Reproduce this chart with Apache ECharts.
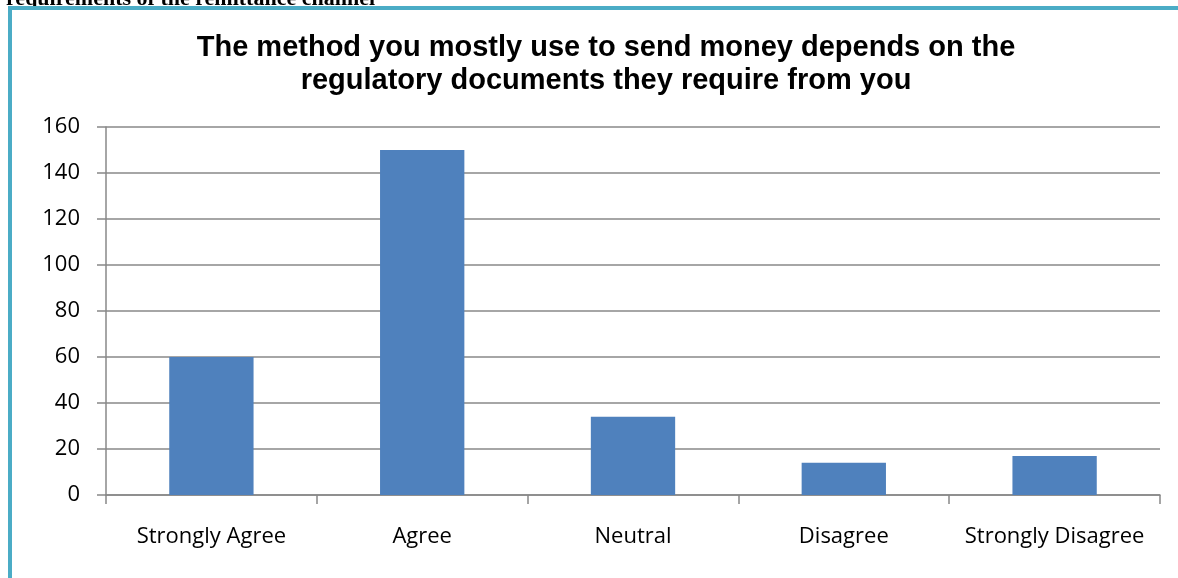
<!DOCTYPE html>
<html>
<head>
<meta charset="utf-8">
<script src="https://cdn.jsdelivr.net/npm/echarts@6/dist/echarts.min.js"></script>
<style>
  html, body { margin: 0; padding: 0; background: #fff; }
  #chart { width: 1178px; height: 578px; }
</style>
</head>
<body>
<div id="chart"></div>
<script>
const categories = ['Strongly Agree', 'Agree', 'Neutral', 'Disagree', 'Strongly Disagree']
const responses = [60, 150, 34, 14, 17]
const yTicks = { min: 0, max: 160, interval: 20 }

const chart = echarts.init(document.getElementById('chart'))

chart.setOption({
  animation: false,
  title: {
    text: 'The method you mostly use to send money depends on the\nregulatory documents they require from you',
    left: 601,
    textAlign: 'center',
    top: 26,
    textStyle: {
      fontFamily: '"Liberation Sans", Arial, sans-serif',
      fontWeight: 'bold',
      fontSize: 29,
      lineHeight: 33,
      color: '#000',
    },
  },
  graphic: [
    {
      type: 'text',
      left: 6,
      top: -12,
      style: {
        text: 'requirements of the remittance channel',
        font: 'bold 22px "Liberation Serif", "Times New Roman", serif',
        fill: '#000',
      },
    },
    {
      type: 'rect',
      shape: { x: 10, y: 8, width: 1200, height: 700 },
      style: { fill: 'none', stroke: '#4BACC6', lineWidth: 4 },
    },
  ],
  grid: {
    left: 106,
    right: 18,
    top: 127,
    bottom: 83,
  },
  xAxis: {
    type: 'category',
    data: categories,
    axisLine: { lineStyle: { color: '#888', width: 1.5 } },
    axisTick: { show: true, length: 9, lineStyle: { color: '#888', width: 1.5 } },
    axisLabel: {
      interval: 0,
      color: '#000',
      fontFamily: '"Open Sans", Lato, sans-serif',
      fontSize: 22,
      margin: 31,
    },
  },
  yAxis: {
    type: 'value',
    min: yTicks.min,
    max: yTicks.max,
    interval: yTicks.interval,
    axisLine: { show: true, lineStyle: { color: '#888', width: 1.5 } },
    axisTick: { show: true, length: 9, lineStyle: { color: '#888', width: 1.5 } },
    axisLabel: {
      color: '#000',
      fontFamily: '"Open Sans", Lato, sans-serif',
      fontSize: 22,
      margin: 26,
    },
    splitLine: { lineStyle: { color: '#888', width: 1.5 } },
  },
  series: [
    {
      type: 'bar',
      data: responses,
      barWidth: '40%',
      itemStyle: { color: '#4F81BD' },
    },
  ],
})
</script>
</body>
</html>
